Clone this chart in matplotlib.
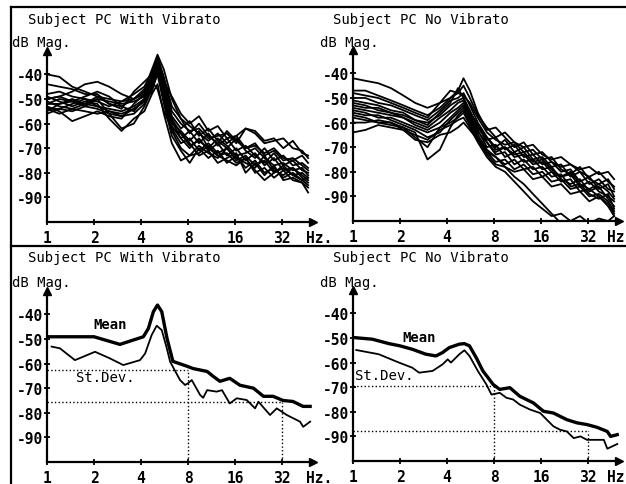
import numpy as np
import matplotlib.pyplot as plt
from matplotlib.lines import Line2D

plt.rcParams['font.family'] = ['DejaVu Sans Mono', 'DejaVu Sans']
plt.rcParams['axes.unicode_minus'] = False

# 频率网格 (Hz)，上面两幅图的各条曲线共用
freq = [1, 1.2, 1.45, 1.75, 2.1, 2.5, 3.0, 3.6, 4.2, 4.7, 5.1, 5.6, 6.3, 7.2,
        8.2, 9.4, 10.8, 12.4, 14.2, 16.3, 18.7, 21.5, 24.7, 28.4, 32.6, 37.5, 43, 47]

# 有颤音 (with vibrato) 的各次测量
vib_curves = [
    [-40, -41, -45, -47, -49, -50, -51, -50, -47, -40, -33, -42, -55, -60, -63, -62, -66, -65, -64, -68, -62, -63, -67, -66, -70, -67, -72, -73],
    [-44, -45, -46, -48, -48, -52, -53, -50, -46, -38, -32, -38, -50, -58, -64, -60, -65, -68, -63, -67, -70, -69, -72, -70, -74, -75, -73, -76],
    [-50, -49, -47, -44, -43, -45, -48, -50, -48, -40, -34, -44, -57, -62, -59, -65, -62, -67, -70, -66, -71, -74, -70, -75, -73, -77, -76, -78],
    [-52, -50, -51, -49, -47, -49, -53, -55, -50, -42, -35, -45, -59, -66, -63, -68, -64, -69, -66, -71, -69, -73, -76, -72, -77, -75, -79, -80],
    [-53, -55, -59, -57, -55, -57, -58, -52, -48, -43, -36, -48, -61, -66, -70, -66, -71, -68, -73, -70, -75, -72, -77, -74, -79, -78, -81, -83],
    [-55, -52, -50, -52, -53, -55, -56, -54, -51, -44, -38, -50, -63, -70, -73, -69, -72, -74, -70, -75, -73, -77, -75, -80, -77, -81, -80, -82],
    [-51, -53, -54, -52, -50, -56, -62, -60, -53, -46, -40, -52, -65, -71, -76, -70, -74, -71, -76, -73, -78, -75, -80, -78, -82, -80, -83, -85],
    [-49, -51, -53, -51, -52, -58, -63, -58, -55, -48, -44, -56, -68, -75, -73, -72, -69, -73, -75, -77, -74, -80, -78, -82, -79, -83, -84, -88],
    [-54, -54, -52, -50, -53, -54, -55, -53, -50, -41, -33, -41, -53, -58, -61, -64, -67, -64, -68, -65, -70, -68, -73, -71, -75, -74, -77, -79],
    [-48, -47, -49, -50, -51, -53, -51, -48, -45, -39, -36, -47, -60, -63, -67, -63, -70, -66, -69, -73, -72, -70, -74, -77, -76, -79, -78, -81],
    [-56, -54, -55, -53, -54, -56, -57, -56, -52, -45, -37, -49, -62, -68, -66, -71, -68, -72, -70, -74, -76, -78, -73, -79, -81, -78, -82, -84],
    [-52, -52, -51, -53, -50, -51, -52, -51, -49, -43, -46, -55, -62, -64, -68, -73, -71, -76, -74, -72, -80, -76, -81, -77, -83, -82, -84, -86],
    [-50, -49, -51, -52, -49, -52, -54, -47, -43, -40, -35, -43, -49, -56, -60, -57, -63, -61, -66, -65, -62, -64, -68, -67, -66, -70, -71, -74],
    [-54, -56, -54, -55, -56, -55, -57, -54, -51, -47, -39, -46, -58, -64, -69, -67, -70, -73, -72, -76, -74, -79, -83, -80, -78, -81, -83, -82],
]

# 无颤音 (no vibrato) 的各次测量
novib_curves = [
    [-42, -43, -44, -46, -49, -52, -54, -52, -50, -48, -45, -50, -57, -62, -66, -64, -68, -70, -69, -73, -75, -74, -77, -79, -78, -81, -80, -83],
    [-47, -47, -49, -51, -53, -55, -57, -54, -50, -47, -42, -47, -56, -63, -62, -66, -70, -68, -73, -72, -76, -78, -77, -80, -82, -80, -84, -86],
    [-48, -49, -50, -52, -54, -56, -58, -52, -47, -48, -49, -52, -58, -64, -67, -69, -68, -72, -71, -75, -74, -79, -81, -78, -83, -85, -83, -87],
    [-50, -50, -52, -53, -55, -57, -59, -55, -51, -50, -48, -53, -60, -66, -70, -67, -72, -70, -75, -74, -78, -77, -82, -80, -85, -83, -87, -88],
    [-51, -52, -53, -55, -56, -59, -60, -57, -53, -51, -50, -55, -62, -67, -66, -71, -69, -74, -73, -77, -76, -80, -79, -84, -82, -87, -85, -90],
    [-52, -53, -55, -56, -58, -60, -62, -58, -55, -52, -51, -56, -61, -68, -72, -70, -74, -73, -77, -76, -80, -82, -81, -86, -84, -88, -90, -92],
    [-54, -55, -56, -57, -58, -61, -63, -60, -56, -54, -52, -57, -63, -70, -69, -74, -72, -76, -75, -79, -78, -83, -85, -83, -88, -86, -91, -94],
    [-55, -56, -58, -58, -60, -62, -64, -62, -58, -55, -53, -58, -64, -68, -73, -72, -77, -75, -79, -78, -82, -81, -86, -85, -89, -91, -89, -95],
    [-56, -57, -57, -59, -61, -63, -66, -64, -59, -56, -54, -59, -65, -71, -74, -77, -75, -79, -78, -82, -80, -84, -83, -88, -87, -90, -93, -97],
    [-57, -58, -60, -60, -62, -64, -75, -71, -62, -57, -55, -60, -66, -72, -76, -75, -79, -77, -81, -80, -84, -83, -87, -86, -90, -89, -92, -96],
    [-58, -59, -60, -61, -62, -66, -70, -62, -60, -58, -56, -61, -67, -73, -77, -78, -82, -85, -89, -93, -97, -101, -104, -106, -108, -110, -112, -114],
    [-60, -60, -59, -60, -63, -65, -67, -63, -61, -59, -58, -62, -68, -74, -78, -80, -84, -88, -92, -95, -98, -97, -100, -98, -101, -99, -100, -98],
    [-64, -63, -61, -62, -63, -67, -68, -65, -64, -62, -60, -63, -67, -72, -74, -78, -80, -79, -83, -82, -86, -85, -89, -88, -92, -90, -94, -98],
    [-53, -54, -54, -56, -57, -59, -61, -56, -52, -46, -50, -56, -61, -66, -71, -70, -73, -72, -76, -75, -79, -82, -80, -85, -87, -85, -88, -91],
]

# 有颤音: 平均值与标准差曲线
vib_mean_f = [1, 2.0, 2.93, 4.14, 4.46, 4.8, 5.1, 5.43, 5.87, 6.4, 7.9, 8.6, 10.6, 11.6,
              12.8, 14.8, 17.2, 21, 24.3, 28, 32.5, 37.6, 43.6, 48.4]
vib_mean = [-49.1, -49.1, -52.2, -49.1, -45.7, -38.9, -36.2, -38.9, -49.8, -59.1, -61.1, -62.0, -63.2, -65.2,
            -67.2, -66.0, -68.8, -70.0, -73.3, -73.3, -75.0, -75.4, -77.4, -77.4]
vib_sd_f = [1.07, 1.21, 1.51, 2.03, 2.53, 3.08, 3.94, 4.25, 4.68, 5.04, 5.43, 5.85, 6.14, 7.11,
            7.66, 8.0, 8.45, 9.57, 10.0, 10.6, 12.2, 13.2, 14.8, 16.4, 19, 21.5, 22.6, 26.8,
            29.6, 34.3, 41.7, 43.7, 48.4]
vib_sd = [-53.1, -53.8, -58.6, -55.2, -57.9, -60.6, -58.6, -55.9, -48.4, -44.6, -46.4, -53.8, -59.2, -66.7,
          -68.7, -68.0, -66.7, -72.8, -73.9, -70.8, -71.4, -70.8, -76.2, -74.1, -74.8, -78.2, -75.5, -80.9,
          -78.2, -80.9, -83.6, -85.7, -83.6]

# 无颤音: 平均值与标准差曲线
novib_mean_f = [1, 1.33, 1.7, 2.0, 2.4, 2.93, 3.4, 3.75, 4.14, 4.8, 5.17, 5.57, 6.15, 6.79,
                7.9, 8.7, 10.1, 11.7, 14.3, 16.6, 19.2, 23.4, 27.2, 31.5, 36.5, 42.5, 44.6, 49.2]
novib_mean = [-49.8, -50.5, -52.3, -53.2, -54.6, -56.6, -57.3, -55.9, -53.9, -52.5, -52.3, -53.2, -58.0, -63.4,
              -68.9, -70.9, -70.2, -73.7, -76.4, -79.8, -80.5, -83.2, -84.5, -85.2, -86.3, -88.0, -90.0, -89.3]
novib_sd_f = [1.05, 1.46, 1.97, 2.4, 2.65, 3.23, 3.75, 4.04, 4.24, 4.8, 5.17, 5.57, 6.3, 7.15,
              7.7, 8.7, 9.6, 10.6, 11.7, 13.6, 15.8, 17.4, 19.2, 21.2, 23.4, 25.9, 28.6, 31.5,
              40.4, 42.5, 49.2]
novib_sd = [-54.9, -56.6, -60.0, -62.1, -64.1, -63.4, -60.7, -58.7, -60.0, -56.6, -55.0, -57.3, -63.4, -68.9,
            -73.0, -72.3, -74.3, -75.0, -77.1, -79.1, -80.5, -83.2, -85.9, -87.3, -88.0, -90.7, -90.0, -91.4,
            -91.4, -95.0, -93.1]

# 虚线参考: (频率, dB)
vib_ref = [(8, -62.5), (32, -75.7)]
novib_ref = [(8, -69.6), (32, -87.7)]

tick_f = [1, 2, 4, 8, 16, 32]
tick_db = [-40, -50, -60, -70, -80, -90]

W, H = 626, 485
fig = plt.figure(figsize=(W / 100, H / 100), dpi=100)


def px_box(x0, y_axis, w=266, h=171):
    """像素坐标 -> figure 坐标"""
    return [x0 / W, 1 - y_axis / H, w / W, h / H]


def setup_ax(ax, hz_text, hz_x):
    ax.set_xscale('log', base=2)
    ax.set_xlim(1, 50.5)
    ax.set_ylim(-100, -30.5)
    for s in ['top', 'right']:
        ax.spines[s].set_visible(False)
    for s in ['left', 'bottom']:
        ax.spines[s].set_linewidth(1.6)
    ax.set_xticks(tick_f)
    ax.set_xticklabels([str(t) for t in tick_f])
    ax.xaxis.set_minor_locator(plt.NullLocator())
    ax.set_yticks(tick_db)
    ax.set_yticklabels([str(t) for t in tick_db])
    ax.tick_params(axis='both', direction='inout', length=5, width=1.3, labelsize=10.5)
    ax.tick_params(axis='y', pad=0)
    ax.tick_params(axis='x', pad=3)
    for lab in ax.get_xticklabels() + ax.get_yticklabels():
        lab.set_fontweight('bold')
    # 坐标轴箭头
    ax.plot([1], [0], marker='>', color='k', markersize=6, transform=ax.transAxes, clip_on=False)
    ax.plot([0], [1], marker='^', color='k', markersize=6, transform=ax.transAxes, clip_on=False)
    ax.text(hz_x, -0.045, hz_text, transform=ax.transAxes, va='top', ha='left',
            fontsize=10.5, fontweight='bold')


ax1 = fig.add_axes(px_box(47, 223))
ax2 = fig.add_axes(px_box(353, 222))
ax3 = fig.add_axes(px_box(47, 463))
ax4 = fig.add_axes(px_box(353, 462))
setup_ax(ax1, 'Hz.', 0.972)
setup_ax(ax2, 'Hz', 0.955)
setup_ax(ax3, 'Hz.', 0.972)
setup_ax(ax4, 'Hz', 0.955)

# 上: 所有曲线
for c in vib_curves:
    ax1.plot(freq, c, color='k', lw=1.3)
for c in novib_curves:
    ax2.plot(freq, c, color='k', lw=1.3)

# 下: 平均值 + 标准差
ax3.plot(vib_mean_f, vib_mean, color='k', lw=2.4)
ax3.plot(vib_sd_f, vib_sd, color='k', lw=1.3)
ax4.plot(novib_mean_f, novib_mean, color='k', lw=2.4)
ax4.plot(novib_sd_f, novib_sd, color='k', lw=1.3)

for ax, refs in [(ax3, vib_ref), (ax4, novib_ref)]:
    for f, db in refs:
        ax.plot([1, f], [db, db], color='k', lw=1, ls=':')
        ax.plot([f, f], [-100, db], color='k', lw=1, ls=':')

ax3.text(2.53, -44, 'Mean', ha='center', va='center', fontsize=10, fontweight='bold')
ax3.text(2.35, -65.6, 'St.Dev.', ha='center', va='center', fontsize=10)
ax4.text(2.66, -49.8, 'Mean', ha='center', va='center', fontsize=10, fontweight='bold')
ax4.text(1.58, -65, 'St.Dev.', ha='center', va='center', fontsize=10)

# 标题
for x, y, t in [(28, 20, 'Subject PC With Vibrato'), (333, 20, 'Subject PC No Vibrato'),
                (28, 258, 'Subject PC With Vibrato'), (333, 258, 'Subject PC No Vibrato')]:
    fig.text(x / W, 1 - y / H, t, ha='left', va='center', fontsize=10)
for x, y in [(12, 43), (320, 43), (12, 283), (320, 283)]:
    fig.text(x / W, 1 - y / H, 'dB Mag.', ha='left', va='center', fontsize=10)

# 外框
fig.add_artist(Line2D([11 / W, 11 / W], [0, 1 - 8 / H], color='k', lw=1.6))
fig.add_artist(Line2D([11 / W, 1], [1 - 8 / H, 1 - 8 / H], color='k', lw=1.6))
fig.add_artist(Line2D([11 / W, 1], [1 - 247 / H, 1 - 247 / H], color='k', lw=1.6))

plt.savefig('out.png', dpi=100, facecolor='white')
plt.close()
